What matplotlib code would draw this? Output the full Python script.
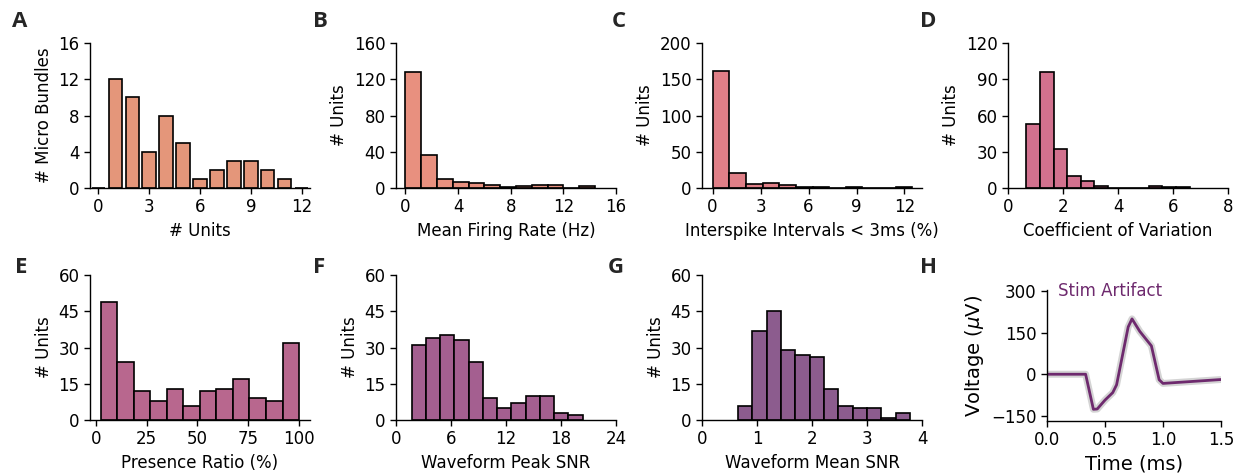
import numpy as np
import matplotlib.pyplot as plt

# A: units per micro bundle (discrete counts)
units_per_bundle = [0, 1, 2, 3, 4, 5, 6, 7, 8, 9, 10, 11, 12]
bundle_counts = [0, 12, 10, 4, 8, 5, 1, 2, 3, 3, 2, 1, 0]

# B: mean firing rate histogram
fr_range = (0.0, 14.4)
fr_counts = [128, 36, 10, 7, 6, 3, 1, 2, 3, 3, 0, 2]

# C: ISI violations histogram
isi_range = (0.0, 12.5)
isi_counts = [161, 21, 5, 7, 4, 1, 1, 0, 1, 0, 0, 1]

# D: coefficient of variation
cv_range = (0.67, 6.6)
cv_counts = [53, 96, 32, 10, 6, 2, 0, 0, 0, 2, 1, 1]

# E: presence ratio
pr_range = (2.5, 100.0)
pr_counts = [49, 24, 12, 8, 13, 6, 12, 13, 17, 9, 8, 32]

# F: waveform peak SNR
psnr_range = (1.72, 20.35)
psnr_counts = [31, 34, 35, 33, 24, 9, 5, 7, 10, 10, 3, 2]

# G: waveform mean SNR
msnr_range = (0.657, 3.78)
msnr_counts = [6, 37, 45, 29, 27, 26, 13, 6, 5, 5, 1, 3]

# H: stim artifact waveform (mean trace)
t_ms = [0.0, 0.333, 0.4, 0.433, 0.5, 0.567, 0.6, 0.7, 0.733, 0.8, 0.9, 0.967, 1.0, 1.5]
v_uv = [0, 0, -126, -125, -93, -66, -38, 170, 199, 154, 102, -20, -33, -19]

colors = ['#E4967A', '#E8907F', '#E07F87', '#D2718E', '#B8678E', '#A45F90', '#8C5C8E']
line_color = '#6E2A6E'

plt.rcParams['font.family'] = ['DejaVu Sans']
plt.rcParams['font.size'] = 12
plt.rcParams['axes.linewidth'] = 1.0

fig = plt.figure(figsize=(12.43, 4.73), dpi=100)

W = 0.177
H = 0.3066
lefts = [0.0724, 0.3186, 0.5648, 0.811]
top_b = 0.6025
bot_b = 0.112


def style(ax):
    for s in ['top', 'right']:
        ax.spines[s].set_visible(False)
    ax.tick_params(labelsize=12, length=4, width=1.0, color='black')


def hist(ax, rng, counts, color):
    edges = np.linspace(rng[0], rng[1], len(counts) + 1)
    ax.bar(edges[:-1], counts, width=np.diff(edges), align='edge',
           color=color, edgecolor='black', linewidth=1.2)


# A
ax = fig.add_axes([lefts[0], top_b, W, H])
ax.bar(units_per_bundle, bundle_counts, width=0.8, color=colors[0],
       edgecolor='black', linewidth=1.2)
ax.set_xlim(-0.5, 12.5)
ax.set_ylim(0, 16)
ax.set_xticks([0, 3, 6, 9, 12])
ax.set_yticks([0, 4, 8, 12, 16])
ax.set_xlabel('# Units')
ax.set_ylabel('# Micro Bundles')
style(ax)

# B
ax = fig.add_axes([lefts[1], top_b, W, H])
hist(ax, fr_range, fr_counts, colors[1])
ax.set_xlim(-0.72, 16)
ax.set_ylim(0, 160)
ax.set_xticks([0, 4, 8, 12, 16])
ax.set_yticks([0, 40, 80, 120, 160])
ax.set_xlabel('Mean Firing Rate (Hz)')
ax.set_ylabel('# Units')
style(ax)

# C
ax = fig.add_axes([lefts[2], top_b, W, H])
hist(ax, isi_range, isi_counts, colors[2])
ax.set_xlim(-0.66, 13.1)
ax.set_ylim(0, 200)
ax.set_xticks([0, 3, 6, 9, 12])
ax.set_yticks([0, 50, 100, 150, 200])
ax.set_xlabel('Interspike Intervals < 3ms (%)')
ax.set_ylabel('# Units')
style(ax)

# D
ax = fig.add_axes([lefts[3], top_b, W, H])
hist(ax, cv_range, cv_counts, colors[3])
ax.set_xlim(0, 8)
ax.set_ylim(0, 120)
ax.set_xticks([0, 2, 4, 6, 8])
ax.set_yticks([0, 30, 60, 90, 120])
ax.set_xlabel('Coefficient of Variation')
ax.set_ylabel('# Units')
style(ax)

# E
ax = fig.add_axes([lefts[0], bot_b, W, H])
hist(ax, pr_range, pr_counts, colors[4])
ax.set_xlim(-2.8, 105.4)
ax.set_ylim(0, 60)
ax.set_xticks([0, 25, 50, 75, 100])
ax.set_yticks([0, 15, 30, 45, 60])
ax.set_xlabel('Presence Ratio (%)')
ax.set_ylabel('# Units')
style(ax)

# F
ax = fig.add_axes([lefts[1], bot_b, W, H])
hist(ax, psnr_range, psnr_counts, colors[5])
ax.set_xlim(0, 24)
ax.set_ylim(0, 60)
ax.set_xticks([0, 6, 12, 18, 24])
ax.set_yticks([0, 15, 30, 45, 60])
ax.set_xlabel('Waveform Peak SNR')
ax.set_ylabel('# Units')
style(ax)

# G
ax = fig.add_axes([lefts[2], bot_b, W, H])
hist(ax, msnr_range, msnr_counts, colors[6])
ax.set_xlim(0, 4)
ax.set_ylim(0, 60)
ax.set_xticks([0, 1, 2, 3, 4])
ax.set_yticks([0, 15, 30, 45, 60])
ax.set_xlabel('Waveform Mean SNR')
ax.set_ylabel('# Units')
style(ax)

# H
ax = fig.add_axes([0.8423, 0.11, 0.14, 0.277])
# light gray halo stands in for the individual traces
ax.plot(t_ms, v_uv, color='#D4D4D4', linewidth=5, solid_joinstyle='round',
        solid_capstyle='butt')
ax.plot(t_ms, v_uv, color=line_color, linewidth=2, solid_joinstyle='round')
ax.set_xlim(0, 1.5)
ax.set_ylim(-168, 303)
ax.set_xticks([0.0, 0.5, 1.0, 1.5])
ax.set_yticks([-150, 0, 150, 300])
ax.set_xlabel('Time (ms)', fontsize=14)
ax.set_ylabel('Voltage ($\\mu$V)', fontsize=14)
ax.text(0.095, 300, 'Stim Artifact', color=line_color, fontsize=12, va='center')
style(ax)

# panel letters
letter_kw = dict(fontsize=16, fontweight='bold', family=['Open Sans', 'DejaVu Sans'],
                 color='#262626', va='baseline')
for lbl, x in zip('ABCD', [0.0097, 0.252, 0.492, 0.740]):
    fig.text(x, 0.943, lbl, **letter_kw)
for lbl, x in zip('EFGH', [0.012, 0.252, 0.489, 0.740]):
    fig.text(x, 0.423, lbl, **letter_kw)

fig.savefig('out.png', dpi=100)
